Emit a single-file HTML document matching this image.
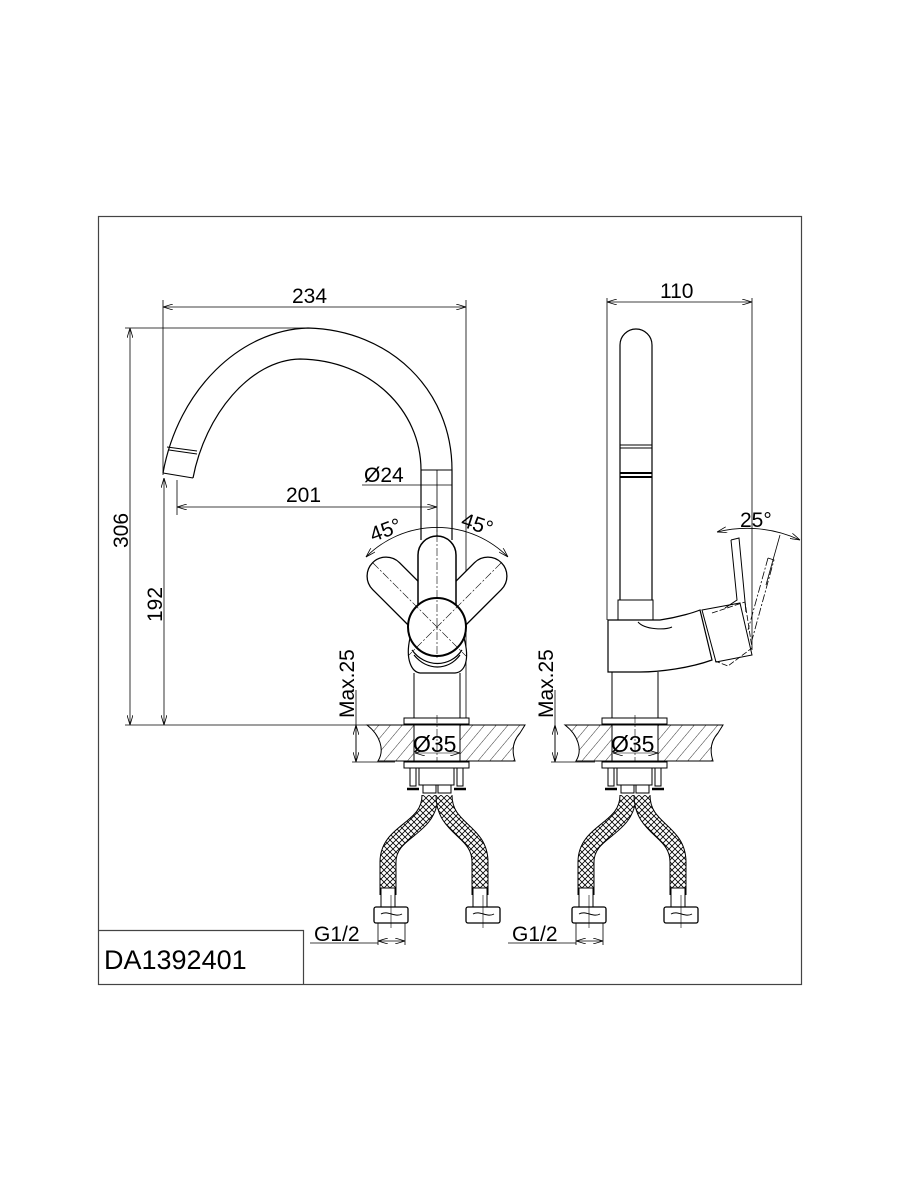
<!DOCTYPE html><html><head><meta charset="utf-8"><style>html,body{margin:0;padding:0;background:#fff}svg{display:block}text{font-family:"Liberation Sans",Arial,sans-serif;fill:#000}</style></head><body>
<svg width="900" height="1200" viewBox="0 0 900 1200" xmlns="http://www.w3.org/2000/svg">
<defs>
<pattern id="ch" width="6" height="6" patternUnits="userSpaceOnUse"><rect width="6" height="6" fill="#fff"/><path d="M0,0L6,6M6,0L0,6" stroke="#000" stroke-width="0.8"/></pattern>
<pattern id="hh" width="9" height="9" patternUnits="userSpaceOnUse" patternTransform="rotate(40)"><rect width="9" height="9" fill="#fff"/><line x1="0" y1="0" x2="0" y2="9" stroke="#000" stroke-width="0.8"/></pattern>
<marker id="a" markerWidth="10" markerHeight="6" refX="10" refY="3" orient="auto-start-reverse" markerUnits="userSpaceOnUse"><path d="M0,0L10,3L0,6" fill="none" stroke="#000" stroke-width="0.8"/></marker>
</defs>
<g fill="none" stroke="#000" stroke-width="1">
<rect x="98.5" y="216.5" width="703" height="768" stroke="#444" stroke-width="1.2"/>
<path d="M98,930.5H303.5V985" stroke="#444" stroke-width="1.2"/>
<!-- LEFT spout -->
<path d="M163,473 C178,390 240,330 308,328 C390,330 452,390 452,470 L452,540" stroke-width="1.2"/>
<path d="M193,478 C205,415 250,360 300,359 C370,360 421,410 421,470 L421,540" stroke-width="1.2"/>
<path d="M167,447 L197,451 M169,450 L197,454 M163,473 L193,478"/>
<path d="M421,470 H452"/>
<!-- dims left -->
<path d="M163,300V475 M466,300V720 M125,328H308 M125,725H415 M177,480V515 M437,470V540" stroke-width="0.8"/>
<path d="M163,307H466" marker-start="url(#a)" marker-end="url(#a)" stroke-width="0.8"/>
<path d="M130,328V725" marker-start="url(#a)" marker-end="url(#a)" stroke-width="0.8"/>
<path d="M164,478V725" marker-start="url(#a)" marker-end="url(#a)" stroke-width="0.8"/>
<path d="M177,507H437" marker-start="url(#a)" marker-end="url(#a)" stroke-width="0.8"/>
<path d="M362,485H452" stroke-width="0.8"/>
<!-- 45 arc -->
<path d="M366,557 A100,100 0 0 1 508,557" stroke-width="0.8" marker-start="url(#a)" marker-end="url(#a)"/>
<!-- handles -->
<rect x="-19" y="-91" width="38" height="91" rx="19" fill="#fff" stroke-width="1.3" transform="translate(437,627) rotate(-45)"/>
<rect x="-19" y="-91" width="38" height="91" rx="19" fill="#fff" stroke-width="1.3" transform="translate(437,627) rotate(45)"/>
<path d="M418,625 V555 A19,19 0 0 1 456,555 V625 Z" fill="#fff" stroke-width="1.5"/>
<path d="M410,638 C405,660 412,672 420,673 H455 C465,672 470,660 464,638" fill="#fff" stroke-width="1.2"/>
<path d="M412,650 C425,668 450,668 462,650 M414,655 C427,671 448,671 460,655" stroke-width="1.2"/>
<circle cx="437" cy="627" r="29" fill="#fff" stroke-width="2"/>
<path d="M437,520V660 M373,563L466,656 M501,563L408,656" stroke-width="0.6" stroke-dasharray="8,2,2,2"/>
<path d="M414,673V718 M460,673V718"/>
<!-- Max.25 left -->
<path d="M356,690V762" stroke-width="0.8"/>
<path d="M356,725V762" marker-start="url(#a)" marker-end="url(#a)" stroke-width="0.8"/>
<path d="M352,762H395" stroke-width="0.8"/>
<!-- RIGHT spout -->
<path d="M620,600 V345 A16,16 0 0 1 652,345 V600" stroke-width="1.2"/>
<path d="M620,445 H652 M620,448 H652"/>
<path d="M620,473 H652 M620,477 H652" stroke-width="2"/>
<path d="M618,600 H653 V620 H618 Z"/>
<path d="M608,620 H660 C680,617 695,612 700,610 L712,660 C690,668 660,672 640,672 H608 Z" stroke-width="1.2"/>
<path d="M638,622 C645,630 665,630 672,627"/>
<path d="M702,610 L740,603 L752,655 L716,662 Z"/>
<path d="M712,613 L745,602 L752,648 L728,666 L715,661" stroke-width="0.8" stroke-dasharray="6,2"/>
<path d="M731,540 L739,538 L746,612 M731,540 L737,600 L725,608"/>
<path d="M768,558 L774,560 L752,640 M768,558 L748,630" stroke-width="0.8" stroke-dasharray="8,2,2,2"/>
<path d="M612,672V718 M658,672V718"/>
<!-- dims right -->
<path d="M607,298V620 M752,298V650" stroke-width="0.8"/>
<path d="M607,302H752" marker-start="url(#a)" marker-end="url(#a)" stroke-width="0.8"/>
<path d="M717,532 A125,125 0 0 1 800,540" stroke-width="0.8" marker-start="url(#a)" marker-end="url(#a)"/>
<path d="M780,535L766,585" stroke-width="0.8"/>
<path d="M555,690V762" stroke-width="0.8"/>
<path d="M555,725V762" marker-start="url(#a)" marker-end="url(#a)" stroke-width="0.8"/>
<path d="M551,762H595" stroke-width="0.8"/>
</g>
<!-- base assemblies -->
<g id="base" fill="none" stroke="#000" stroke-width="1">
<path d="M367,725 H525 L520,733 C512,742 512,752 515,761 H378 C385,750 380,735 367,725 Z" fill="url(#hh)"/>
<rect x="414" y="725" width="46" height="36" fill="#fff"/>
<rect x="404" y="718" width="65" height="6" fill="#fff"/>
<path d="M437,715V780" stroke-width="0.6" stroke-dasharray="8,2,2,2"/>
<rect x="404" y="762" width="65" height="6" fill="#fff"/>
<rect x="419" y="768" width="35" height="17" fill="#fff"/>
<rect x="410" y="768" width="6" height="18"/><rect x="457" y="768" width="6" height="18"/>
<path d="M407,789 h12 M454,789 h12" stroke-width="2.5"/>
<rect x="423" y="785" width="13" height="8"/><rect x="438" y="785" width="13" height="8"/>
<path d="M430,795 C430,830 388,830 388,862 V895" stroke="#000" stroke-width="17"/>
<path d="M430,795 C430,830 388,830 388,862 V888" stroke="url(#ch)" stroke-width="15"/>
<path d="M444,795 C444,830 480,830 480,862 V895" stroke="#000" stroke-width="17"/>
<path d="M444,795 C444,830 480,830 480,862 V888" stroke="url(#ch)" stroke-width="15"/>
<rect x="381" y="888" width="14" height="20" fill="#fff"/><rect x="473" y="888" width="14" height="20" fill="#fff"/>
<rect x="374" y="907" width="34" height="16" rx="2" fill="#fff" stroke-width="1.3"/>
<rect x="466" y="907" width="34" height="16" rx="2" fill="#fff" stroke-width="1.3"/>
<path d="M381,914 C388,910 395,918 402,914 M473,914 C480,910 487,918 494,914"/>
<path d="M391,895V928 M483,895V928" stroke-width="0.6"/>
<path d="M378,923V945 M405,923V945" stroke-width="0.8"/>
<path d="M378,941H405" marker-start="url(#a)" marker-end="url(#a)" stroke-width="0.8"/>
<path d="M310,943H378" stroke-width="0.8"/>
<path d="M415,753H460" marker-start="url(#a)" marker-end="url(#a)" stroke-width="0.6"/>
</g>
<use href="#base" x="198"/>
<g font-size="21">
<text x="292" y="303">234</text>
<text x="286" y="502">201</text>
<text x="364" y="482">Ø24</text>
<text x="660" y="298">110</text>
<text x="740" y="527">25°</text>
<text x="413" y="752" font-size="23">Ø35</text>
<text x="611" y="752" font-size="23">Ø35</text>
<text x="314" y="941">G1/2</text>
<text x="512" y="941">G1/2</text>
<text transform="translate(373,542) rotate(-20)">45°</text>
<text transform="translate(460,526) rotate(18)">45°</text>
<text transform="translate(128,548) rotate(-90)">306</text>
<text transform="translate(162,622) rotate(-90)">192</text>
<text transform="translate(354,718) rotate(-90)">Max.25</text>
<text transform="translate(553,718) rotate(-90)">Max.25</text>
</g>
<text x="104" y="969" font-size="27">DA1392401</text>
</svg>
</body></html>
